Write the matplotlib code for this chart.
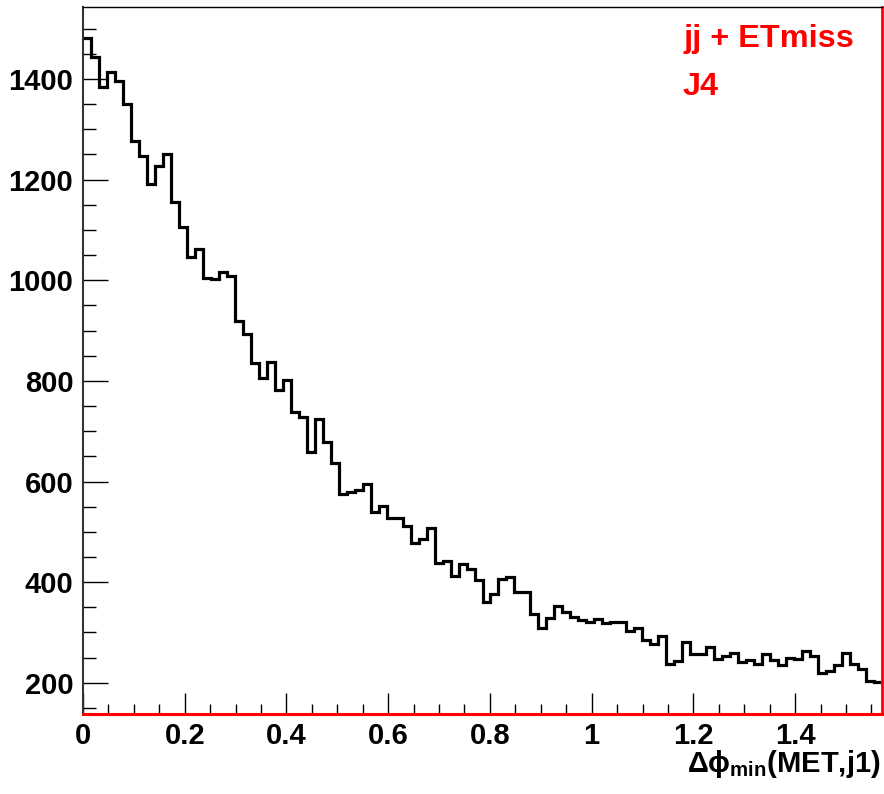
import numpy as np
import matplotlib
matplotlib.use("Agg")
import matplotlib.pyplot as plt
from matplotlib.ticker import MultipleLocator

plt.rcParams["font.family"] = ["Liberation Sans", "DejaVu Sans"]
plt.rcParams["mathtext.fontset"] = "custom"
plt.rcParams["mathtext.rm"] = "Liberation Sans:bold"
plt.rcParams["mathtext.it"] = "Liberation Sans:bold"
plt.rcParams["mathtext.bf"] = "Liberation Sans:bold"

# --- histogram content: dphi_min(MET, j1), 100 bins on [0, pi/2] ---
X_MIN, X_MAX, N_BINS = 0.0, np.pi / 2, 100
counts = [
    1481, 1444, 1384, 1413, 1396, 1351, 1277, 1247, 1192, 1227,
    1250, 1155, 1105, 1046, 1062, 1005, 1002, 1016, 1008, 919,
    894, 835, 805, 838, 781, 801, 739, 728, 659, 724,
    679, 637, 576, 579, 584, 596, 540, 551, 528, 528,
    512, 478, 485, 507, 438, 442, 412, 436, 426, 404,
    361, 376, 407, 410, 380, 380, 336, 308, 328, 353,
    341, 331, 324, 321, 327, 318, 321, 321, 303, 309,
    285, 278, 294, 238, 244, 281, 257, 257, 272, 248,
    254, 260, 242, 246, 238, 257, 245, 235, 250, 247,
    263, 254, 220, 224, 236, 260, 237, 227, 204, 201,
]
legend_lines = ["jj + ETmiss", "J4"]
x_title = r"$\Delta\phi_{\rm min}$(MET,j1)"

edges = np.linspace(X_MIN, X_MAX, N_BINS + 1)

fig = plt.figure(figsize=(8.84, 7.94), dpi=100)
ax = fig.add_axes([83 / 884, 1 - 714 / 794, 799 / 884, 707 / 794])

ax.stairs(counts, edges, baseline=None, color="black", linewidth=2.3, zorder=2)

ax.set_xlim(X_MIN, X_MAX)
ax.set_ylim(138, 1543)

# ROOT-like ticks: inside, bottom/left only
ax.xaxis.set_major_locator(MultipleLocator(0.2))
ax.xaxis.set_minor_locator(MultipleLocator(0.05))
ax.yaxis.set_major_locator(MultipleLocator(200))
ax.yaxis.set_minor_locator(MultipleLocator(50))
ax.tick_params(axis="x", which="major", direction="in", length=15, width=1, pad=6)
ax.tick_params(axis="x", which="minor", direction="in", length=7.5, width=1)
ax.tick_params(axis="y", which="major", direction="in", length=18, width=1, pad=7)
ax.tick_params(axis="y", which="minor", direction="in", length=9, width=1)
ax.tick_params(labelsize=21)
ax.xaxis.set_major_formatter(plt.FuncFormatter(lambda v, p: f"{v:g}"))
for lab in ax.get_xticklabels() + ax.get_yticklabels():
    lab.set_fontweight("bold")

ax.spines["left"].set_color("#333333")
ax.spines["left"].set_linewidth(1.5)
ax.spines["top"].set_color("black")
ax.spines["top"].set_linewidth(1.0)
ax.spines["right"].set_color("red")
ax.spines["right"].set_linewidth(2.0)
ax.spines["bottom"].set_color("red")
ax.spines["bottom"].set_linewidth(2.2)

# legend-like text
ax.text(683 / 884, 1 - 47 / 794, legend_lines[0], transform=fig.transFigure,
        color="red", fontsize=23.3, fontweight="bold", ha="left", va="baseline")
ax.text(683 / 884, 1 - 95 / 794, legend_lines[1], transform=fig.transFigure,
        color="red", fontsize=23.3, fontweight="bold", ha="left", va="baseline")

fig.text(881 / 884, 1 - 772 / 794, x_title, color="black", fontsize=21,
         fontweight="bold", ha="right", va="baseline")

fig.savefig("out.png", dpi=100)
